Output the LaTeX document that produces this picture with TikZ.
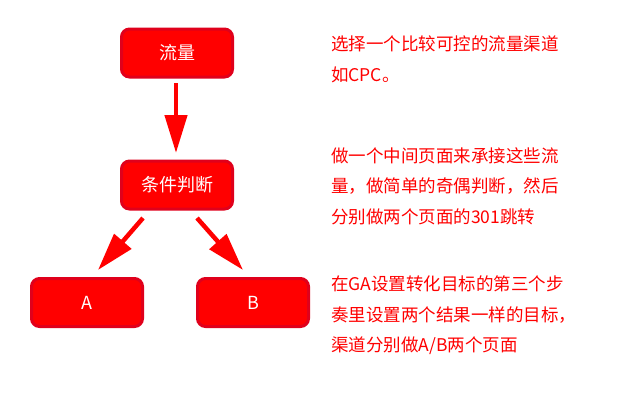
\documentclass[tikz,border=0pt]{standalone}
\usepackage{fontspec}
\setmainfont{Noto Sans CJK SC}
\usetikzlibrary{arrows.meta}
\definecolor{boxfill}{HTML}{FF0000}
\definecolor{boxline}{HTML}{E0001B}
\definecolor{txtred}{HTML}{FF0000}
\tikzset{
  flowbox/.style={draw=boxline, fill=boxfill, line width=3pt, rounded corners=8pt,
    minimum width=111pt, minimum height=48pt, inner sep=0pt, text=white,
    font=\fontsize{18}{21}\selectfont},
  flowarrow/.style={draw=txtred, line width=4.5pt,
    -{Triangle[length=38pt,width=22pt]}},
  note/.style={text=txtred, anchor=north west, align=left, inner sep=0pt,
    font=\fontsize{17.5}{30.5}\selectfont}
}
\begin{document}
\begin{tikzpicture}[x=1pt,y=-1pt]
\useasboundingbox (0,0) rectangle (620,400);
\node[flowbox] (liu) at (177,53) {流量};
\node[flowbox] (tj) at (177,185) {条件判断};
\node[flowbox] (a) at (87,302.5) {A};
\node[flowbox] (b) at (253,302.5) {B};
\coordinate (s1) at (176,83);
\coordinate (e1) at (176,153);
\coordinate (s2) at (143,218);
\coordinate (e2) at (98,270);
\coordinate (s3) at (197,218);
\coordinate (e3) at (243,270);
\draw[flowarrow] (s1) -- (e1);
\draw[flowarrow] (s2) -- (e2);
\draw[flowarrow] (s3) -- (e3);
\node[note] (n1) at (331,36) {选择一个比较可控的流量渠道\\如CPC。};
\node[note] (n2) at (331,147) {做一个中间页面来承接这些流\\量，做简单的奇偶判断，然后\\分别做两个页面的301跳转};
\node[note] (n3) at (331,276) {在GA设置转化目标的第三个步\\奏里设置两个结果一样的目标，\\渠道分别做A/B两个页面};
\end{tikzpicture}
\end{document}
